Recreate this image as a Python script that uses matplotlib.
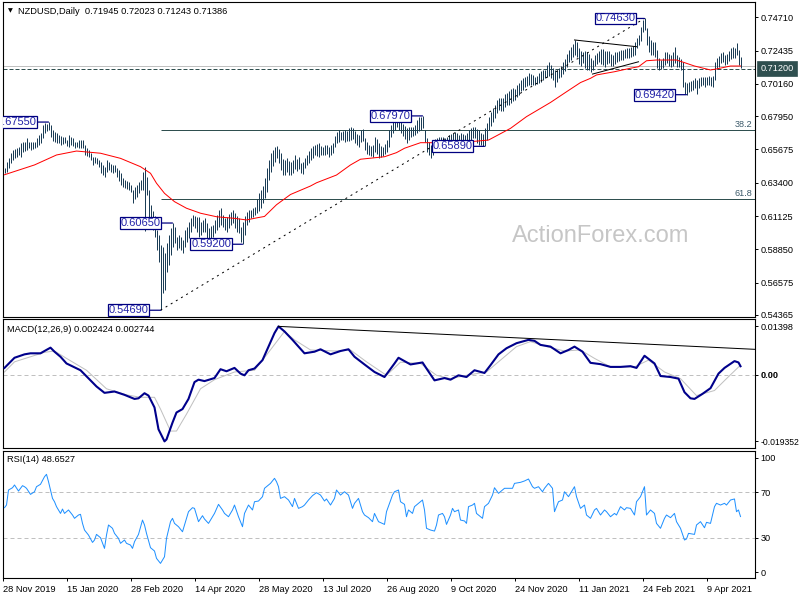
import numpy as np
import matplotlib
matplotlib.use("Agg")
import matplotlib.pyplot as plt
from matplotlib import transforms

plt.rcParams['font.family'] = ['Liberation Sans', 'DejaVu Sans']

# ---------------- data ----------------
title_text = "NZDUSD,Daily  0.71945 0.72023 0.71243 0.71386"
high_pips = [
    6441, 6482, 6509, 6543, 6564, 6570, 6577, 6584, 6611, 6618,
    6618, 6646, 6618, 6618, 6618, 6618, 6646, 6667, 6680, 6735,
    6748, 6742, 6755, 6735, 6701, 6687, 6680, 6667, 6660, 6653,
    6653, 6632, 6667, 6653, 6646, 6618, 6618, 6632, 6632, 6632,
    6598, 6577, 6564, 6543, 6516, 6516, 6509, 6496, 6482, 6461,
    6448, 6496, 6482, 6468, 6461, 6461, 6441, 6427, 6406, 6372,
    6359, 6352, 6345, 6325, 6291, 6311, 6325, 6345, 6359, 6413,
    6448, 6379, 6291, 6188, 6147, 6113, 6017, 5983, 5915, 5901,
    5860, 5929, 5983, 6031, 6065, 6038, 5969, 5983, 5969, 5949,
    6017, 6038, 6072, 6099, 6120, 6113, 6106, 6106, 6072, 6086,
    6099, 6065, 6031, 6045, 6051, 6086, 6120, 6154, 6167, 6120,
    6099, 6106, 6127, 6140, 6154, 6133, 6113, 6099, 6038, 6072,
    6113, 6140, 6154, 6154, 6167, 6174, 6229, 6270, 6291, 6318,
    6372, 6441, 6496, 6543, 6564, 6584, 6591, 6570, 6543, 6502,
    6496, 6509, 6489, 6482, 6496, 6530, 6502, 6516, 6475, 6482,
    6509, 6530, 6557, 6577, 6591, 6598, 6605, 6611, 6591, 6584,
    6598, 6598, 6584, 6598, 6611, 6660, 6687, 6701, 6687, 6694,
    6701, 6694, 6714, 6721, 6714, 6694, 6673, 6667, 6701, 6708,
    6646, 6618, 6598, 6591, 6598, 6653, 6639, 6611, 6591, 6584,
    6605, 6632, 6701, 6735, 6755, 6789, 6789, 6776, 6755, 6742,
    6728, 6714, 6721, 6721, 6721, 6735, 6769, 6789, 6790, 6797,
    6701, 6646, 6618, 6598, 6618, 6639, 6646, 6653, 6653, 6653,
    6646, 6653, 6667, 6673, 6680, 6687, 6680, 6667, 6680, 6673,
    6667, 6680, 6701, 6714, 6721, 6721, 6708, 6701, 6680, 6673,
    6714, 6748, 6789, 6823, 6851, 6871, 6906, 6919, 6919, 6919,
    6947, 6954, 6967, 6981, 6988, 6981, 7008, 7022, 7042, 7056,
    7063, 7070, 7090, 7083, 7076, 7063, 7070, 7090, 7104, 7111,
    7111, 7145, 7165, 7145, 7124, 7111, 7111, 7124, 7138, 7165,
    7186, 7220, 7247, 7268, 7288, 7316, 7302, 7261, 7240, 7234,
    7240, 7234, 7220, 7193, 7179, 7213, 7227, 7240, 7254, 7254,
    7240, 7240, 7240, 7220, 7213, 7234, 7234, 7240, 7247, 7247,
    7254, 7261, 7261, 7268, 7275, 7302, 7330, 7350, 7404, 7452,
    7463, 7398, 7343, 7316, 7302, 7302, 7247, 7193, 7179, 7193,
    7234, 7234, 7220, 7213, 7234, 7268, 7213, 7200, 7186, 7165,
    7029, 7022, 7029, 7035, 7042, 7056, 7042, 7056, 7063, 7063,
    7063, 7063, 7070, 7063, 7070, 7165, 7193, 7206, 7227, 7234,
    7213, 7220, 7240, 7261, 7268, 7261, 7295, 7247, 7202]
low_pips = [
    6406, 6413, 6441, 6475, 6496, 6509, 6516, 6530, 6516, 6550,
    6557, 6564, 6577, 6564, 6570, 6577, 6584, 6598, 6611, 6646,
    6680, 6694, 6701, 6653, 6625, 6618, 6611, 6611, 6598, 6605,
    6611, 6591, 6584, 6598, 6591, 6577, 6584, 6577, 6577, 6577,
    6530, 6523, 6516, 6496, 6461, 6475, 6468, 6448, 6406, 6393,
    6379, 6413, 6427, 6413, 6406, 6413, 6379, 6352, 6325, 6311,
    6304, 6297, 6291, 6277, 6202, 6229, 6243, 6270, 6291, 6291,
    6010, 6257, 6038, 6031, 6017, 5969, 5881, 5798, 5469, 5586,
    5607, 5730, 5778, 5846, 5901, 5929, 5881, 5895, 5881, 5860,
    5901, 5935, 5963, 6004, 6045, 6031, 6004, 5969, 5983, 6004,
    6004, 5949, 5949, 5963, 5969, 5997, 6017, 6038, 6051, 6038,
    6017, 6004, 6031, 6051, 6065, 6031, 6004, 5997, 5935, 5920,
    5983, 6051, 6072, 6099, 6106, 6120, 6133, 6147, 6167, 6202,
    6236, 6277, 6359, 6413, 6455, 6482, 6509, 6475, 6427, 6393,
    6393, 6413, 6393, 6393, 6406, 6434, 6420, 6434, 6406, 6400,
    6441, 6461, 6475, 6496, 6509, 6530, 6523, 6516, 6530, 6530,
    6530, 6537, 6516, 6530, 6543, 6584, 6611, 6618, 6632, 6632,
    6618, 6625, 6625, 6632, 6639, 6611, 6598, 6584, 6618, 6625,
    6564, 6537, 6530, 6523, 6516, 6550, 6537, 6509, 6516, 6523,
    6537, 6550, 6584, 6653, 6680, 6701, 6721, 6701, 6680, 6660,
    6639, 6611, 6632, 6653, 6660, 6667, 6680, 6694, 6701, 6714,
    6618, 6550, 6530, 6511, 6530, 6557, 6564, 6584, 6577, 6577,
    6584, 6591, 6598, 6605, 6598, 6611, 6605, 6598, 6611, 6605,
    6591, 6598, 6625, 6632, 6646, 6646, 6611, 6598, 6598, 6591,
    6589, 6632, 6701, 6728, 6755, 6783, 6817, 6837, 6830, 6830,
    6858, 6871, 6871, 6885, 6899, 6906, 6926, 6940, 6967, 6974,
    6995, 7001, 7008, 7008, 7008, 7008, 7015, 7022, 7029, 7042,
    7056, 7063, 7070, 7056, 7042, 6995, 7029, 7056, 7063, 7083,
    7104, 7131, 7165, 7179, 7200, 7213, 7200, 7152, 7138, 7158,
    7124, 7111, 7111, 7097, 7111, 7138, 7152, 7165, 7152, 7145,
    7131, 7152, 7158, 7138, 7138, 7152, 7165, 7172, 7179, 7179,
    7193, 7193, 7193, 7200, 7206, 7213, 7261, 7282, 7309, 7371,
    7384, 7282, 7234, 7213, 7213, 7200, 7124, 7111, 7117, 7124,
    7145, 7158, 7138, 7131, 7138, 7158, 7131, 7131, 7111, 6995,
    6950, 6942, 6960, 6967, 6974, 6988, 6950, 6988, 7001, 7008,
    6995, 7008, 7008, 7001, 6995, 7042, 7117, 7131, 7158, 7165,
    7145, 7152, 7172, 7186, 7193, 7193, 7213, 7145, 7124]

ma_bar = [0, 15, 26, 36, 48, 58, 68, 73, 76, 80, 85, 91, 98, 106, 115, 121, 126, 130,
          136, 143, 153, 156, 166, 173, 178, 190, 196, 200, 208, 216, 223, 233, 242,
          253, 261, 273, 281, 288, 293, 296, 305, 313, 317, 321, 326, 336, 340, 345,
          353, 356, 363, 368]
ma_val = [0.6395, 0.6462, 0.6530, 0.6557, 0.6542, 0.6507, 0.6450, 0.6405, 0.6337,
          0.6268, 0.6211, 0.6166, 0.6132, 0.6108, 0.6097, 0.6086, 0.6100, 0.6110,
          0.6190, 0.6260, 0.6318, 0.6340, 0.6393, 0.6462, 0.6501, 0.6518, 0.6546,
          0.6576, 0.6614, 0.6614, 0.6614, 0.6621, 0.6632, 0.6712, 0.6792, 0.6889,
          0.6962, 0.7025, 0.7054, 0.7077, 0.7099, 0.7123, 0.7133, 0.7174, 0.7179,
          0.7179, 0.7161, 0.7138, 0.7111, 0.7118, 0.7138, 0.7138]

fib_levels = [0.6701, 0.6231]
fib_names = ['38.2', '61.8']
fib_start_bar = 78
trend_bar = [78, 320]
trend_price = [0.5469, 0.7463]
tri_up_bar = [285, 316]
tri_up_price = [0.7316, 0.7270]
tri_lo_bar = [294, 317]
tri_lo_price = [0.7083, 0.7167]
level_dashed = 0.7120
last_close = 0.71386

label_text = ['0.67550', '0.60650', '0.54690', '0.59200', '0.67970', '0.65890', '0.74630', '0.69420']
label_bar = [22, 84, 78, 119, 209, 240, 320, 341]
label_price = [0.6755, 0.6065, 0.5469, 0.5920, 0.6797, 0.6589, 0.7463, 0.6942]

price_ticks = [0.74710, 0.72435, 0.70160, 0.67950, 0.65675, 0.63400, 0.61125, 0.58850, 0.56575, 0.54365]

macd_bar = [0, 5, 10, 13, 18, 20, 23, 25, 28, 31, 38, 43, 46, 50, 55, 60, 65, 67, 70, 72,
            75, 77, 80, 81, 84, 86, 89, 92, 95, 97, 100, 105, 108, 111, 115, 118, 120, 122, 125, 129,
            132, 135, 137, 140, 144, 147, 150, 155, 158, 163, 168, 172, 175, 180, 185, 190, 195, 197, 203, 209,
            211, 215, 220, 223, 227, 231, 235, 240, 243, 247, 251, 256, 262, 265, 268, 273, 278, 282, 285, 289,
            293, 298, 303, 308, 313, 316, 320, 325, 328, 333, 337, 340, 343, 345, 349, 353, 357, 360, 365, 367,
            368]
macd_e4 = [19.4, 48.8, 58.7, 61.7, 61.7, 68.4, 78.1, 66.4, 51.7, 32.3,
           12.6, -16.7, -34.4, -52.9, -49.0, -58.7, -70.5, -68.7, -54.0, -60.8,
           -95.2, -158.6, -193.52, -188.0, -139.2, -109.8, -99.9, -70.5, -21.7, -14.7,
           -18.8, -10.0, 15.6, 9.7, 19.4, 2.9, -2.1, 12.6, 17.6, 42.0,
           81.1, 120.4, 139.8, 125.1, 100.7, 81.1, 61.7, 66.4, 73.4, 58.7,
           68.4, 73.4, 51.7, 29.4, 7.6, -7.0, 32.3, 48.8, 29.4, 35.2,
           17.6, -16.7, -10.0, -14.7, -2.1, -7.0, 12.6, 4.7, 27.3, 58.7,
           76.4, 91.0, 100.7, 97.8, 86.1, 81.1, 61.7, 71.4, 81.1, 66.4,
           34.1, 30.3, 22.3, 22.3, 24.4, 19.4, 54.6, 32.3, -4.1, -7.0,
           -11.7, -51.1, -68.7, -70.5, -55.8, -39.4, 2.9, 19.4, 39.1, 35.2,
           24.24]
signal_bar = [0, 5, 13, 20, 25, 31, 41, 51, 61, 68, 75, 78, 83, 86, 91, 98, 105, 115, 125, 131,
              140, 145, 153, 165, 173, 181, 191, 198, 208, 216, 223, 231, 241, 248, 256, 263, 271, 280, 288, 295,
              303, 315, 322, 330, 338, 346, 355, 361, 368]
signal_e4 = [7.6, 37.0, 51.7, 64.6, 68.4, 47.0, 12.6, -41.1, -58.7, -65.8,
             -65.8, -99.9, -163.6, -163.6, -114.5, -41.1, -14.7, 7.6, 12.6, 56.7,
             125.1, 100.7, 71.4, 68.4, 71.4, 37.0, -2.1, 36.1, 32.3, -2.1,
             -11.7, -2.1, 7.6, 42.0, 81.1, 95.7, 81.1, 68.4, 71.4, 47.0,
             22.3, 22.3, 42.0, 7.6, -11.7, -60.8, -46.1, -11.7, 27.44]
macd_tl_bar = [137, 375]
macd_tl_val = [0.01398, 0.00733]
macd_tick_vals = [0.01398, 0.0, -0.019352]
macd_tick_text = ['0.01398', '0.00', '-0.019352']
macd_title = "MACD(12,26,9) 0.002424 0.002744"

rsi_bar = [0, 1, 2, 4, 5, 7, 9, 10, 11, 13, 15, 16, 18, 20, 21, 22, 23, 24, 25, 26,
           28, 29, 30, 32, 34, 35, 37, 38, 39, 40, 42, 44, 45, 46, 48, 50, 51, 52, 54, 55,
           57, 58, 60, 61, 63, 64, 65, 67, 69, 70, 71, 73, 75, 76, 78, 80, 81, 83, 84, 85,
           87, 89, 90, 92, 94, 95, 97, 99, 100, 102, 104, 105, 107, 109, 110, 112, 114, 115, 117, 119,
           120, 122, 124, 125, 127, 129, 130, 133, 135, 136, 137, 138, 140, 142, 144, 145, 147, 149, 150, 152,
           154, 156, 158, 160, 161, 163, 165, 166, 168, 170, 172, 174, 175, 177, 179, 180, 182, 184, 185, 187,
           190, 191, 194, 195, 197, 198, 200, 201, 202, 204, 205, 207, 209, 210, 211, 213, 215, 216, 217, 219,
           220, 221, 223, 224, 225, 227, 228, 230, 231, 232, 234, 235, 236, 239, 240, 242, 244, 245, 247, 249,
           250, 252, 254, 255, 258, 260, 262, 264, 265, 267, 269, 270, 272, 274, 275, 277, 279, 280, 282, 285,
           286, 288, 290, 291, 293, 295, 296, 298, 300, 301, 303, 305, 306, 308, 310, 311, 313, 315, 316, 318,
           320, 321, 323, 325, 326, 328, 330, 331, 333, 335, 336, 338, 340, 341, 342, 345, 346, 348, 350, 351,
           353, 355, 356, 358, 360, 361, 363, 365, 366, 367, 368]
rsi_val = [56.4, 58.7, 71.8, 73.8, 76.2, 70.9, 75.6, 74.7, 73.3, 68.0, 70.3, 74.7, 76.8, 83.4, 85.5, 79.1, 71.8, 64.5, 61.6, 57.3,
           51.4, 55.2, 51.4, 54.4, 50.0, 47.1, 50.0, 50.6, 42.7, 36.9, 32.5, 26.1, 28.2, 33.1, 30.2, 20.9, 32.5, 41.3, 38.4, 34.0,
           29.6, 25.3, 28.2, 25.3, 23.8, 20.9, 26.7, 33.1, 45.6, 41.3, 34.0, 21.5, 18.6, 12.2, 7.8, 13.6, 29.6, 44.2, 47.1, 42.7,
           39.8, 35.4, 41.3, 52.9, 56.4, 55.8, 44.2, 49.4, 46.5, 42.7, 48.5, 51.4, 59.3, 54.4, 51.4, 48.5, 54.4, 58.7, 48.5, 39.8,
           51.4, 58.7, 54.4, 61.6, 62.2, 66.0, 73.3, 77.6, 82.0, 79.1, 74.7, 64.5, 66.0, 63.1, 57.3, 64.5, 55.8, 57.3, 58.7, 63.1,
           66.9, 69.5, 67.4, 62.2, 64.0, 58.7, 64.5, 71.8, 67.4, 70.3, 67.4, 55.8, 60.2, 64.5, 52.9, 50.0, 47.7, 44.2, 51.4, 44.2,
           41.8, 52.9, 67.4, 70.3, 71.8, 61.6, 59.3, 48.5, 54.4, 51.4, 57.3, 60.2, 63.1, 54.4, 38.4, 36.9, 36.0, 41.3, 50.0, 51.4,
           48.5, 41.8, 50.0, 55.8, 52.9, 54.4, 45.6, 44.8, 42.7, 57.3, 58.7, 60.2, 51.4, 47.1, 57.3, 60.2, 67.4, 73.8, 68.9, 71.8,
           73.3, 73.3, 73.3, 77.6, 78.5, 79.7, 81.4, 74.7, 73.3, 74.7, 70.3, 73.3, 77.6, 73.3, 52.9, 61.6, 63.1, 70.3, 66.0, 74.7,
           66.0, 55.8, 58.7, 50.0, 47.1, 54.4, 55.8, 50.0, 54.4, 52.9, 48.5, 51.4, 50.0, 57.3, 54.4, 56.4, 55.8, 50.0, 61.6, 66.0,
           74.7, 50.0, 54.4, 51.4, 42.7, 38.4, 47.1, 50.0, 47.7, 51.4, 44.2, 38.4, 28.2, 29.1, 34.0, 33.1, 41.3, 44.2, 38.9, 43.6,
           42.7, 57.3, 60.2, 58.7, 60.2, 58.7, 63.1, 64.0, 52.9, 54.4, 48.65]
rsi_levels = [70, 30]
rsi_ticks = [100, 70, 30, 0]
rsi_title = "RSI(14) 48.6527"

date_labels = ['28 Nov 2019', '15 Jan 2020', '28 Feb 2020', '14 Apr 2020', '28 May 2020',
               '13 Jul 2020', '26 Aug 2020', '9 Oct 2020', '24 Nov 2020', '11 Jan 2021',
               '24 Feb 2021', '9 Apr 2021']
bars_per_label = 32

# ---------------- figure ----------------
W_PX, H_PX = 800, 600
fig = plt.figure(figsize=(8, 6), dpi=100)
fig.patch.set_facecolor('white')

def box(top_px, bot_px):
    return [3 / W_PX, 1 - bot_px / H_PX, 751.5 / W_PX, (bot_px - top_px) / H_PX]

ax = fig.add_axes(box(2, 316.5))
axm = fig.add_axes(box(319, 447.7))
axr = fig.add_axes(box(450.7, 578.3))

XMIN, XMAX = -0.75, 375.0
PX = 1 / 1.389  # one pixel in points

BAR_C = '#1b3d56'
SLATE = '#2f4f4f'
NAVY = '#000080'

for a in (ax, axm, axr):
    a.set_xlim(XMIN, XMAX)
    for s in a.spines.values():
        s.set_linewidth(0.8)
        s.set_color('black')
    a.yaxis.tick_right()
    a.tick_params(axis='y', direction='out', length=2.2, width=0.7, pad=2.2,
                  labelsize=6.6, left=False, right=True, labelleft=False, labelright=True)
    a.tick_params(axis='x', bottom=False, labelbottom=False)

# ---- main price panel ----
bars = np.arange(len(high_pips))
highs = np.array(high_pips) / 10000.0
lows = np.array(low_pips) / 10000.0

ax.set_ylim(0.54262, 0.75755)
ax.axhline(last_close, color='#c0c0c0', lw=PX, zorder=1)
ax.axhline(level_dashed, color=SLATE, lw=PX, ls=(0, (4, 2)), zorder=1)
for lv, nm in zip(fib_levels, fib_names):
    ax.hlines(lv, fib_start_bar, XMAX, color=SLATE, lw=PX, zorder=1)
    ax.annotate(nm, xy=(XMAX, lv), xytext=(-2, 1), textcoords='offset pixels',
                ha='right', va='bottom', fontsize=6.6, color='#3c5a6a')

ax.vlines(bars, lows, highs, color=BAR_C, lw=PX, zorder=3, snap=True)
ax.plot(ma_bar, ma_val, color='#ff0000', lw=PX, zorder=4)
ax.plot(trend_bar, trend_price, color='black', lw=PX, ls=(0, (2, 4)), zorder=5)
ax.plot(tri_up_bar, tri_up_price, color='black', lw=PX, zorder=5)
ax.plot(tri_lo_bar, tri_lo_price, color='black', lw=PX, zorder=5)

lab_off = [-12, -12, -12, -11.5, -12, -12, -9, -12]
for t, b, p, dx in zip(label_text, label_bar, label_price, lab_off):
    ann = ax.annotate(t, xy=(b, p), xytext=(dx, 0), textcoords='offset pixels',
                      ha='right', va='center', fontsize=8, color='#2323a8', zorder=6,
                      bbox=dict(boxstyle='square,pad=0.08', fc='white', ec=NAVY, lw=0.9),
                      arrowprops=dict(arrowstyle='-', color=NAVY, lw=0.9, shrinkA=0, shrinkB=0))
    ann.set_clip_on(True)
    ann.set_clip_path(ax.patch)

ax.set_yticks(price_ticks)
ax.set_yticklabels(['%.5f' % v for v in price_ticks])
ax.text(1.0075, level_dashed, '%.5f' % level_dashed, transform=transforms.blended_transform_factory(ax.transAxes, ax.transData),
        ha='left', va='center', fontsize=6.6, color='white', clip_on=False, zorder=10,
        bbox=dict(boxstyle='square,pad=0.35', fc=SLATE, ec=SLATE, lw=0.5))

fig.text(18 / W_PX, 1 - 11 / H_PX, title_text, ha='left', va='center', fontsize=6.7, color='black')
fig.text(10 / W_PX, 1 - 10.5 / H_PX, '\u25BC', ha='center', va='center', fontsize=4.5,
         color='black', family='DejaVu Sans')
fig.text(601 / W_PX, 1 - 236 / H_PX, 'ActionForex.com', ha='center', va='center',
         fontsize=17, color='#c6c6c6', zorder=0)

# ---- MACD panel ----
axm.set_ylim(-0.021188, 0.016116)
axm.axhline(0, color='#c0c0c0', lw=PX, ls=(0, (4, 3)), zorder=1)
axm.plot(signal_bar, np.array(signal_e4) / 1e4, color='#c0c0c0', lw=PX, zorder=2)
axm.plot(macd_bar, np.array(macd_e4) / 1e4, color='#00008b', lw=1.5, zorder=3)
axm.plot(macd_tl_bar, macd_tl_val, color='black', lw=PX, zorder=4, clip_on=True)
axm.set_yticks(macd_tick_vals)
axm.set_yticklabels(macd_tick_text)
for lab in axm.get_yticklabels():
    if lab.get_text() == '0.00':
        lab.set_fontweight('bold')
    if lab.get_text().startswith('-'):
        lab.set_fontsize(6.2)
fig.text(7.3 / W_PX, 1 - 329 / H_PX, macd_title, ha='left', va='center', fontsize=6.7, color='black')

# ---- RSI panel ----
axr.set_ylim(-5.2, 106.1)
for lv in rsi_levels:
    axr.axhline(lv, color='#c0c0c0', lw=PX, ls=(0, (4, 3)), zorder=1)
axr.plot(rsi_bar, rsi_val, color='#1e90ff', lw=PX, zorder=3)
axr.set_yticks(rsi_ticks)
axr.set_yticklabels([str(v) for v in rsi_ticks])
fig.text(7.3 / W_PX, 1 - 460 / H_PX, rsi_title, ha='left', va='center', fontsize=6.7, color='black')

xt = [XMIN + k * bars_per_label for k in range(len(date_labels))]
axr.set_xticks(xt)
axr.set_xticklabels(date_labels)
axr.tick_params(axis='x', bottom=True, labelbottom=True, direction='out', length=2.2,
                width=0.7, pad=2.5, labelsize=6.7)
for lab in axr.get_xticklabels():
    lab.set_ha('left')

fig.savefig('out.png', dpi=100, facecolor='white')
